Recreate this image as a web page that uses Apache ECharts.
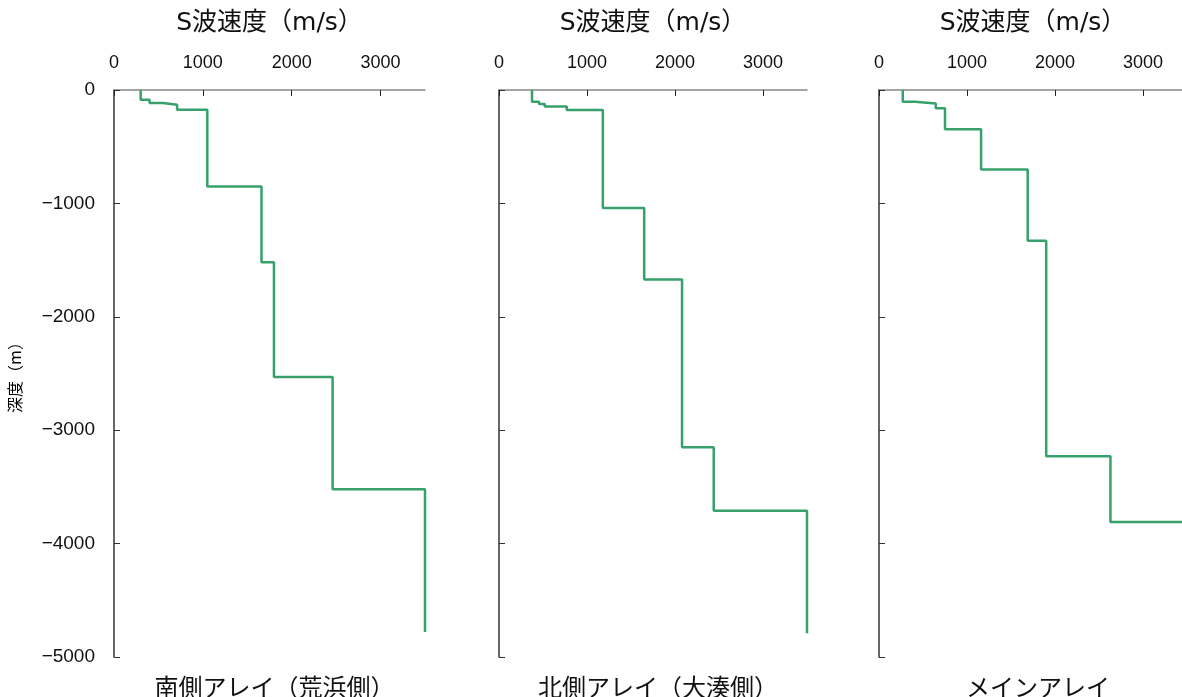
<!DOCTYPE html>
<html><head><meta charset="utf-8">
<script src="https://cdn.jsdelivr.net/npm/echarts@6/dist/echarts.min.js"></script>
<style>html,body{margin:0;padding:0;background:#fff}#c{width:1182px;height:697px}</style>
</head><body><div id="c"></div>
<script>
// Layer S-wave velocities (m/s) and layer bottom depths (m)
const southVs    = [300, 400, 550, 710, 1050, 1660, 1800, 2460, 3500];
const southDepth = [-85, -115, -130, -175, -850, -1520, -2530, -3520, -4780];
const northVs    = [375, 455, 520, 770, 1180, 1650, 2080, 2440, 3500];
const northDepth = [-103, -124, -145, -176, -1040, -1670, -3150, -3710, -4790];
const mainVs     = [270, 410, 645, 750, 1160, 1690, 1900, 2630, 3500];
const mainDepth  = [-103, -118, -162, -347, -700, -1330, -3230, -3810, -4800];
const panelNames = ['南側アレイ（荒浜側）', '北側アレイ（大湊側）', 'メインアレイ'];
const xTitle = 'S波速度（m/s）';
const yTitle = '深度（m）';
const xMax = 3500, yMin = -5000;

function profile(vs, depth) {
  const pts = [];
  let top = 0;
  for (let i = 0; i < vs.length; i++) {
    pts.push([vs[i], top]);
    pts.push([vs[i], depth[i]]);
    top = depth[i];
  }
  return pts;
}
const panels = [[southVs, southDepth], [northVs, northDepth], [mainVs, mainDepth]];
const grids = [{left: 114, width: 311}, {left: 499, width: 308}, {left: 879, width: 308}];
const FONT = '"Noto Sans CJK JP", sans-serif';
const TFONT = '"DejaVu Sans", "Noto Sans CJK JP", sans-serif';
const NUMFONT = '"Liberation Sans", Arial, sans-serif';

const option = {
  animation: false,
  backgroundColor: '#fff',
  title: grids.map((g, i) => ({
    text: panelNames[i], left: g.left + g.width / 2, top: 670, textAlign: 'center',
    textStyle: {fontFamily: FONT, fontSize: 24, fontWeight: 'normal', color: '#111'}
  })),
  grid: grids.map(g => ({left: g.left, width: g.width, top: 90, height: 567,
    outerBoundsMode: 'none', containLabel: false})),
  xAxis: grids.map((g, i) => ({
    type: 'value', gridIndex: i, position: 'top', min: 0, max: xMax, interval: 1000,
    name: xTitle, nameLocation: 'middle', nameGap: 54,
    nameTextStyle: {fontFamily: TFONT, fontSize: 25, color: '#111'},
    axisLine: {show: true, lineStyle: {color: '#888', width: 1.5}},
    axisTick: {show: true, inside: true, length: 6, lineStyle: {color: '#222'}},
    axisLabel: {showMaxLabel: false, margin: 18, fontFamily: NUMFONT, fontSize: 18, color: '#111',
      formatter: v => String(v)},
    splitLine: {show: false}
  })),
  yAxis: grids.map((g, i) => ({
    type: 'value', gridIndex: i, min: yMin, max: 0, interval: 1000,
    name: i === 0 ? yTitle : '', nameLocation: 'middle', nameGap: 91, nameRotate: 90,
    nameTextStyle: {fontFamily: FONT, fontSize: 16, fontWeight: 'normal', color: '#000'},
    axisLine: {show: true, lineStyle: {color: '#333', width: 1.5}},
    axisTick: {show: true, inside: true, length: 6, lineStyle: {color: '#333'}},
    axisLabel: {show: i === 0, margin: 19, fontFamily: NUMFONT, fontSize: 19, color: '#111',
      formatter: v => String(v).replace('-', '\u2212')},
    splitLine: {show: false}
  })),
  series: panels.map((p, i) => ({
    type: 'line', xAxisIndex: i, yAxisIndex: i, data: profile(p[0], p[1]),
    showSymbol: false, clip: false,
    lineStyle: {color: '#37a06b', width: 2.5}
  }))
};
echarts.init(document.getElementById('c')).setOption(option);
</script></body></html>
